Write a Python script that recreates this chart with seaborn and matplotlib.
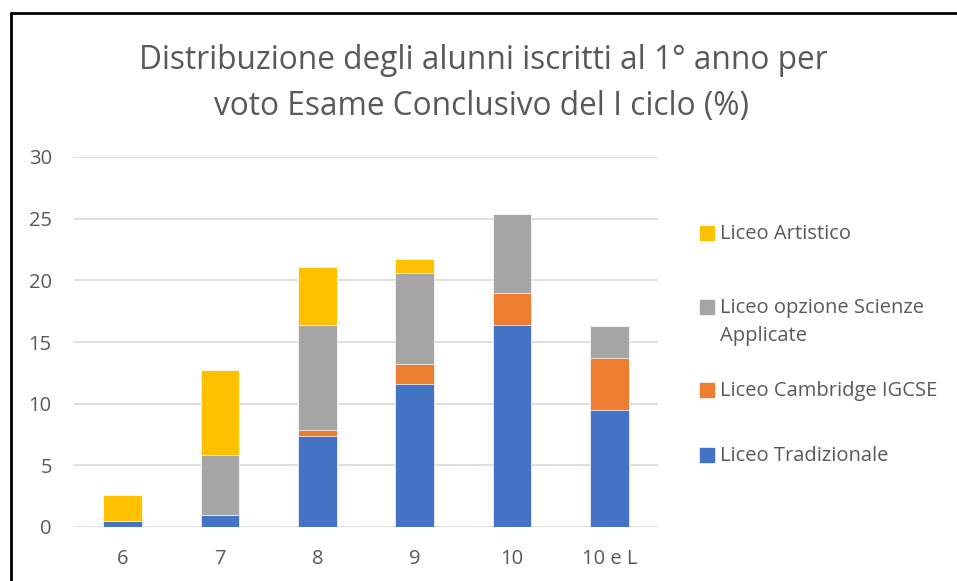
import matplotlib
matplotlib.use("Agg")

import matplotlib.patches as mpatches
import matplotlib.pyplot as plt
import numpy as np
import pandas as pd
import seaborn as sns

# Data (% of first-year students per exam grade)
voti = ["6", "7", "8", "9", "10", "10 e L"]
tradizionale = [0.5, 1.0, 7.4, 11.6, 16.4, 9.5]
cambridge = [0.0, 0.0, 0.5, 1.6, 2.6, 4.2]
scienze_applicate = [0.0, 4.8, 8.45, 7.4, 6.4, 2.6]
artistico = [2.1, 6.9, 4.75, 1.1, 0.0, 0.0]

series_names = [
    "Liceo Tradizionale",
    "Liceo Cambridge IGCSE",
    "Liceo opzione Scienze\nApplicate",
    "Liceo Artistico",
]
series_values = [tradizionale, cambridge, scienze_applicate, artistico]
colors = ["#4472C4", "#ED7D31", "#A5A5A5", "#FFC000"]
TEXT = "#595959"

sns.set_theme(style="white")
plt.rcParams["font.family"] = ["Open Sans", "DejaVu Sans"]

W, H = 957, 581
fig = plt.figure(figsize=(W / 100, H / 100), dpi=100)
ax = fig.add_axes([74 / W, 1 - 527 / H, 584 / W, 370 / H])

# stack by drawing cumulative totals, tallest first
cum = np.cumsum(np.array(series_values), axis=0)
for i in range(len(series_names) - 1, -1, -1):
    df = pd.DataFrame({"voto": voti, "val": cum[i]})
    sns.barplot(data=df, x="voto", y="val", color=colors[i], width=0.4,
                saturation=1, edgecolor="white", linewidth=0.5, ax=ax, zorder=3)

ax.set_ylim(0, 30)
ax.set_yticks(range(0, 31, 5))
ax.set_xlim(-0.5, len(voti) - 0.5)
ax.yaxis.grid(True, color="#D9D9D9", lw=1.2, zorder=0)
ax.set_axisbelow(True)
for s in ax.spines.values():
    s.set_visible(False)
ax.set_xlabel("")
ax.set_ylabel("")
ax.tick_params(axis="both", length=0, labelsize=14.5, colors=TEXT)
ax.tick_params(axis="y", pad=16)
ax.tick_params(axis="x", pad=16)

# title, two centred lines
fig.text(0.505, 1 - 69 / H, "Distribuzione degli alunni iscritti al 1° anno per",
         ha="center", va="baseline", fontsize=22.8, color=TEXT)
fig.text(0.503, 1 - 115 / H, "voto Esame Conclusivo del I ciclo (%)",
         ha="center", va="baseline", fontsize=22.8, color=TEXT)

# legend laid out like the Excel one: marker next to first line of each entry
legend_rows = [(3, 233), (2, 307), (1, 390), (0, 455)]
for idx, yc in legend_rows:
    fig.add_artist(mpatches.Rectangle((700 / W, 1 - (yc + 7) / H), 14 / W, 14 / H,
                                      transform=fig.transFigure, color=colors[idx]))
    fig.text(720 / W, 1 - (yc - 9) / H, series_names[idx], ha="left", va="top",
             fontsize=14.5, color=TEXT, linespacing=1.5)

# chart border (only top and left edges visible in the reference)
fig.add_artist(plt.Line2D([10.5 / W, 10.5 / W], [0, 1 - 13 / H], color="black", lw=2,
                          transform=fig.transFigure))
fig.add_artist(plt.Line2D([10.5 / W, 1], [1 - 13 / H, 1 - 13 / H], color="black", lw=2,
                          transform=fig.transFigure))

fig.savefig("out.png", dpi=100)
